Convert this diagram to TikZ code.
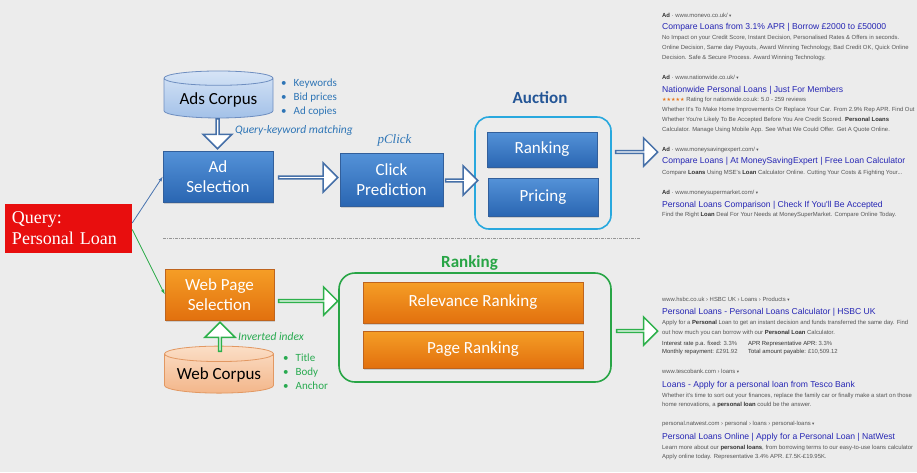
\documentclass[tikz,border=0pt]{standalone}
\usepackage{fontspec}
\setmainfont{Carlito}
\newfontfamily\qfont{Liberation Serif}
\newfontfamily\gfont{Liberation Sans}
\newfontfamily\symfont{DejaVu Sans}
\usetikzlibrary{shapes.geometric,shapes.arrows,arrows.meta,shadows}
\definecolor{bg}{RGB}{236,236,236}
\definecolor{qred}{RGB}{232,14,14}
\definecolor{bluetop}{RGB}{84,146,216}
\definecolor{bluebot}{RGB}{42,102,178}
\definecolor{blueline}{RGB}{50,95,155}
\definecolor{orangetop}{RGB}{245,158,38}
\definecolor{orangebot}{RGB}{226,112,14}
\definecolor{orangeline}{RGB}{190,100,30}
\definecolor{adcyltop}{RGB}{214,228,246}
\definecolor{adcylbot}{RGB}{163,193,232}
\definecolor{adcylline}{RGB}{110,142,192}
\definecolor{webcyltop}{RGB}{251,222,198}
\definecolor{webcylbot}{RGB}{243,182,138}
\definecolor{webcylline}{RGB}{226,152,98}
\definecolor{notesblue}{RGB}{46,117,182}
\definecolor{notesgreen}{RGB}{40,170,80}
\definecolor{arrowblue}{RGB}{70,112,168}
\definecolor{arrowgreen}{RGB}{45,176,75}
\definecolor{auctionline}{RGB}{40,168,222}
\definecolor{auctitle}{RGB}{35,85,150}
\definecolor{rankgreen}{RGB}{40,165,70}
\definecolor{linkblue}{RGB}{72,115,175}
\definecolor{linkgreen}{RGB}{40,170,70}
\definecolor{sepgray}{RGB}{150,150,150}
\definecolor{restitle}{RGB}{38,38,180}
\definecolor{resdesc}{RGB}{85,85,85}
\definecolor{reskw}{RGB}{50,50,50}
\definecolor{starorange}{RGB}{231,120,30}
\newcommand\kw[1]{\textbf{\textcolor{reskw}{#1}}}
\newcommand\dd{{\symfont\fontsize{4.5}{5}\selectfont\ ▾}}

\begin{document}
\begin{tikzpicture}[x=1pt,y=1pt]
			\fill[bg] (0,0) rectangle (917,-472);
			\useasboundingbox (0,0) rectangle (917,-472);
			
			% query
			\node[fill=qred, text=white, font=\qfont\fontsize{18}{21}\selectfont, text width=113pt, inner xsep=7pt, minimum height=49pt, align=left] (query) at (68.5,-228.5) {Query:\\Personal Loan};
			
			% corpora
			\begin{scope}[every node/.style={cylinder, shape border rotate=90, aspect=0.17, line width=0.8pt, font=\fontsize{17}{19}\selectfont, minimum width=109pt, minimum height=47pt}]
				\node[draw=adcylline, top color=adcyltop, bottom color=adcylbot] (adscorpus) at (218.5,-99.5) {Ads Corpus};
				\node[draw=webcylline, top color=webcyltop, bottom color=webcylbot] (webcorpus) at (219,-375) {Web Corpus};
			\end{scope}
			
			\begin{scope}[every node/.style={anchor=base west, align=left, inner sep=0pt, font=\fontsize{11}{14}\selectfont}]
				\node[text=notesblue] (adsnotes) at (281,-114) {•\hspace{7pt}Keywords\\•\hspace{7pt}Bid prices\\•\hspace{7pt}Ad copies};
				\node[text=notesgreen] (webnotes) at (283,-389) {•\hspace{7pt}Title\\•\hspace{7pt}Body\\•\hspace{7pt}Anchor};
				\node[text=notesblue, font=\itshape\fontsize{11.5}{14}\selectfont] (matching) at (235,-133) {Query-keyword matching};
				\node[text=notesgreen, font=\itshape\fontsize{11.5}{14}\selectfont] (inverted) at (238,-340) {Inverted index};
			\end{scope}
			\node[text=notesblue, font=\qfont\itshape\fontsize{13}{15}\selectfont] (pclick) at (394.5,-140) {pClick};
			
			% containers
			\node[draw=auctionline, line width=1.6pt, rounded corners=14pt, minimum width=136pt, minimum height=112pt] (auction) at (543,-173) {};
			\node[draw=rankgreen, line width=1.6pt, rounded corners=16pt, minimum width=272pt, minimum height=109pt] (ranking) at (475,-327.5) {};
			\node[text=auctitle, font=\bfseries\fontsize{17}{19}\selectfont] (auctiontitle) at (540,-97.5) {Auction};
			\node[text=rankgreen, font=\bfseries\fontsize{17}{19}\selectfont] (rankingtitle) at (469.5,-263) {Ranking};
			
			% boxes
			\begin{scope}[every node/.style={rectangle, draw=blueline, top color=bluetop, bottom color=bluebot, text=white, align=center, inner sep=0pt, font=\fontsize{17}{20}\selectfont, drop shadow={opacity=0.3, shadow xshift=1pt, shadow yshift=-1.5pt}}]
				\node[minimum width=110pt, minimum height=51pt] (adsel) at (218,-176.5) {Ad\\Selection};
				\node[minimum width=103pt, minimum height=53pt] (click) at (391.5,-179.5) {Click\\Prediction};
				\node[minimum width=110pt, minimum height=35pt] (rank) at (542,-149.5) {Ranking};
				\node[minimum width=110pt, minimum height=38pt] (price) at (543,-197) {Pricing};
			\end{scope}
			\begin{scope}[every node/.style={rectangle, draw=orangeline, top color=orangetop, bottom color=orangebot, text=white, align=center, inner sep=0pt, font=\fontsize{17}{20}\selectfont, drop shadow={opacity=0.3, shadow xshift=1pt, shadow yshift=-1.5pt}}]
				\node[minimum width=109pt, minimum height=51pt] (websel) at (219.5,-294.5) {Web Page\\Selection};
				\node[minimum width=220pt, minimum height=41pt] (relevance) at (473,-302.5) {Relevance Ranking};
				\node[minimum width=220pt, minimum height=37pt] (pagerank) at (473,-349.5) {Page Ranking};
			\end{scope}
			
			% block arrows
			\begin{scope}[every node/.style={single arrow, fill=white, line width=1.5pt, inner sep=0pt, single arrow head extend=7pt, minimum width=29pt}]
				\node[draw=arrowblue, minimum height=30pt, rotate=-90, single arrow head extend=6.5pt] (downarrow) at (217.5,-133) {};
				\node[draw=arrowblue, minimum height=59pt] (selarrow) at (307.5,-177.5) {};
				\node[draw=arrowblue, minimum height=32pt] (clickarrow) at (461,-180.5) {};
				\node[draw=arrowblue, minimum height=42pt, minimum width=28pt] (adsarrow) at (636,-152) {};
				\node[draw=arrowgreen, minimum height=29pt, rotate=90, minimum width=30pt] (uparrow) at (220,-337.5) {};
				\node[draw=arrowgreen, minimum height=59pt, minimum width=28pt] (webarrow) at (307.5,-301) {};
				\node[draw=arrowgreen, minimum height=41pt, minimum width=28pt] (orgarrow) at (636.5,-331) {};
			\end{scope}
			
			% query links
			\draw[linkblue, line width=0.8pt, -{Latex[length=5pt,width=3.5pt]}] ([yshift=5.5pt]query.east) -- (adsel.west);
			\draw[linkgreen, line width=0.8pt, -{Latex[length=5pt,width=3.5pt]}] ([yshift=-1pt]query.east) -- (websel.west);
			\draw[sepgray, line width=0.8pt, dash pattern=on 3pt off 1pt on 1pt off 1pt] (163,-238) -- (640,-238);
			
			% search results
			\begin{scope}[every node/.style={anchor=base west, inner sep=0pt, text=resdesc, font=\gfont\fontsize{5.9}{7}\selectfont}, title/.style={text=restitle, font=\gfont\fontsize{8.6}{10}\selectfont}]
				\node (ad1url) at (662,-17) {\kw{Ad} · www.monevo.co.uk/\dd};
				\node[title] (ad1title) at (662,-29) {Compare Loans from 3.1\% APR | Borrow £2000 to £50000};
				\node (ad1a) at (662,-39) {No Impact on your Credit Score, Instant Decision, Personalised Rates \& Offers in seconds.};
				\node (ad1b) at (662,-49) {Online Decision, Same day Payouts, Award Winning Technology, Bad Credit OK, Quick Online};
				\node (ad1c) at (662,-59) {Decision. Safe \& Secure Process. Award Winning Technology.};
				\node (ad2url) at (662,-79) {\kw{Ad} · www.nationwide.co.uk/\dd};
				\node[title] (ad2title) at (662,-92) {Nationwide Personal Loans | Just For Members};
				\node (ad2s) at (662,-101) {{\symfont\color{starorange}\fontsize{5}{6}\selectfont ★★★★★} Rating for nationwide.co.uk: 5.0 - 259 reviews};
				\node (ad2a) at (662,-111) {Whether It's To Make Home Improvements Or Replace Your Car. From 2.9\% Rep APR. Find Out};
				\node (ad2b) at (662,-121) {Whether You're Likely To Be Accepted Before You Are Credit Scored. \kw{Personal Loans}};
				\node (ad2c) at (662,-131) {Calculator. Manage Using Mobile App. See What We Could Offer. Get A Quote Online.};
				\node (ad3url) at (662,-151) {\kw{Ad} · www.moneysavingexpert.com/\dd};
				\node[title] (ad3title) at (662,-163) {Compare Loans | At MoneySavingExpert | Free Loan Calculator};
				\node (ad3a) at (662,-174) {Compare \kw{Loans} Using MSE's \kw{Loan} Calculator Online. Cutting Your Costs \& Fighting Your...};
				\node (ad4url) at (662,-194) {\kw{Ad} · www.moneysupermarket.com/\dd};
				\node[title] (ad4title) at (662,-207) {Personal Loans Comparison | Check If You'll Be Accepted};
				\node (ad4a) at (662,-216) {Find the Right \kw{Loan} Deal For Your Needs at MoneySuperMarket. Compare Online Today.};
				
				\node (org1url) at (662,-301) {www.hsbc.co.uk › HSBC UK › Loans › Products\dd};
				\node[title] (org1title) at (662,-314) {Personal Loans - Personal Loans Calculator | HSBC UK};
				\node (org1a) at (662,-324) {Apply for a \kw{Personal} Loan to get an instant decision and funds transferred the same day. Find};
				\node (org1b) at (662,-334) {out how much you can borrow with our \kw{Personal Loan} Calculator.};
				\node (org1c) at (662,-345) {\makebox[86pt][l]{\textcolor{reskw}{Interest rate p.a. fixed:} 3.3\%}\textcolor{reskw}{APR Representative APR:} 3.3\%};
				\node (org1d) at (662,-353) {\makebox[86pt][l]{\textcolor{reskw}{Monthly repayment:} £291.92}\textcolor{reskw}{Total amount payable:} £10,509.12};
				\node (org2url) at (662,-373) {www.tescobank.com › loans\dd};
				\node[title] (org2title) at (662,-387) {Loans - Apply for a personal loan from Tesco Bank};
				\node (org2a) at (662,-397) {Whether it's time to sort out your finances, replace the family car or finally make a start on those};
				\node (org2b) at (662,-406) {home renovations, a \kw{personal loan} could be the answer.};
				\node (org3url) at (662,-425) {personal.natwest.com › personal › loans › personal-loans\dd};
				\node[title] (org3title) at (662,-439) {Personal Loans Online | Apply for a Personal Loan | NatWest};
				\node (org3a) at (662,-449) {Learn more about our \kw{personal loans}, from borrowing terms to our easy-to-use loans calculator};
				\node (org3b) at (662,-458) {Apply online today. Representative 3.4\% APR. £7.5K-£19.95K.};
			\end{scope}
\end{tikzpicture}
\end{document}
